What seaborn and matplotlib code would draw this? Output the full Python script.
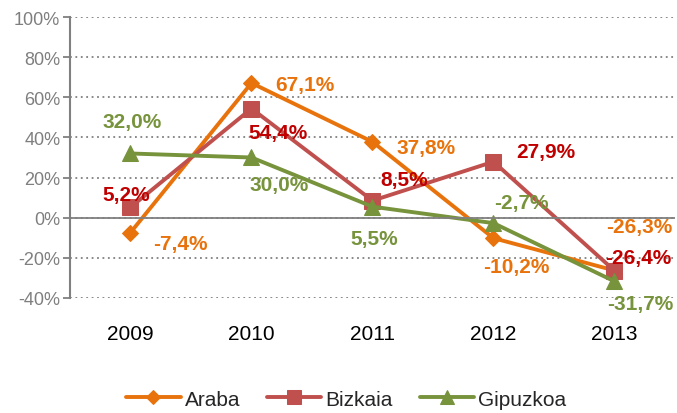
import matplotlib
matplotlib.use('Agg')
import matplotlib.pyplot as plt
import seaborn as sns
import pandas as pd

# data
years = ['2009', '2010', '2011', '2012', '2013']
araba = [-7.4, 67.1, 37.8, -10.2, -26.3]
bizkaia = [5.2, 54.4, 8.5, 27.9, -26.4]
gipuzkoa = [32.0, 30.0, 5.5, -2.7, -31.7]

df = pd.DataFrame({'year': years * 3,
                   'value': araba + bizkaia + gipuzkoa,
                   'zona': ['Araba'] * 5 + ['Bizkaia'] * 5 + ['Gipuzkoa'] * 5})

sns.set_theme(style='white')
plt.rcParams['font.family'] = ['Liberation Sans', 'DejaVu Sans']

line_colors = {'Araba': '#E8730C', 'Bizkaia': '#C0504D', 'Gipuzkoa': '#77933C'}
label_colors = {'Araba': '#E8730C', 'Bizkaia': '#C00000', 'Gipuzkoa': '#77933C'}
markers = {'Araba': 'D', 'Bizkaia': 's', 'Gipuzkoa': '^'}
msizes = {'Araba': 8, 'Bizkaia': 12, 'Gipuzkoa': 12}

# label offsets in pixels (dx, dy)
offsets = {
    'Araba': [(50, -11), (53, -1), (54, -6), (23, -28), (25, 44)],
    'Bizkaia': [(-4, 13), (27, -24), (32, 21), (52, 10), (24, 13)],
    'Gipuzkoa': [(2, 32), (28, -27), (2, -32), (28, 21), (26, -22)],
}

fig = plt.figure(figsize=(6.77, 4.14), dpi=100)
ax = fig.add_axes([0.1034, 0.2778, 0.8936, 0.6787])

for name in ['Araba', 'Bizkaia', 'Gipuzkoa']:
    sub = df[df['zona'] == name]
    sns.lineplot(data=sub, x='year', y='value', ax=ax, color=line_colors[name],
                 marker=markers[name], markersize=msizes[name], linewidth=2.8,
                 markeredgecolor=line_colors[name], label=name, sort=False)
    for i, (x, y) in enumerate(zip(sub['year'], sub['value'])):
        dx, dy = offsets[name][i]
        ax.annotate(f'{y:.1f}%'.replace('.', ','), (i, y), xytext=(dx, dy),
                    textcoords='offset pixels', ha='center', va='center',
                    fontsize=15, fontweight='bold', color=label_colors[name])

ax.set_xlim(-0.5, 4.5)
ax.set_ylim(-40, 100)
ax.set_yticks(range(-40, 101, 20))
ax.set_yticklabels([f'{v}%' for v in range(-40, 101, 20)])
ax.grid(True, axis='y', linestyle=(0, (1, 2)), color='#808080', linewidth=1.3)
ax.axhline(0, color='#808080', linewidth=1.3)
ax.set_xlabel('')
ax.set_ylabel('')
for s in ['top', 'right', 'bottom']:
    ax.spines[s].set_visible(False)
ax.spines['left'].set_color('#808080')
ax.spines['left'].set_linewidth(1.5)
ax.tick_params(axis='y', left=True, length=5, width=1.3, color='#808080',
               labelsize=13, labelcolor='#7F7F7F', pad=2)
ax.tick_params(axis='x', bottom=False, labelsize=15, labelcolor='black', pad=13)

ax.legend(loc='center', bbox_to_anchor=(0.457, -0.36), ncol=3, frameon=False,
          fontsize=15, handlelength=2.6, handletextpad=0.2, columnspacing=1.3,
          markerscale=0.85)

fig.savefig('out.png', dpi=100, facecolor='white')
